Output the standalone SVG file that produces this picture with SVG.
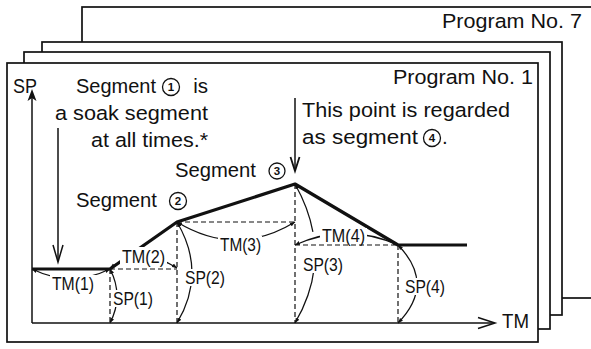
<svg xmlns="http://www.w3.org/2000/svg" width="591" height="349" viewBox="0 0 591 349">
<style>
.frame{fill:#fff;stroke:#111;stroke-width:1.7}
.t{font-family:"Liberation Sans",Arial,Helvetica,sans-serif;font-size:20.5px;fill:#111}
.lb{font-family:"Liberation Sans",Arial,Helvetica,sans-serif;font-size:17.5px;fill:#111}
.dg{font-family:"Liberation Sans",Arial,Helvetica,sans-serif;font-size:11.5px;font-weight:bold;fill:#111;text-anchor:middle}
.ax{fill:none;stroke:#111;stroke-width:1.5}
.dash{fill:none;stroke:#111;stroke-width:1.2;stroke-dasharray:5 3}
.arc{fill:none;stroke:#111;stroke-width:1.25}
.arcm{marker-start:url(#ah);marker-end:url(#ah)}
.prof{fill:none;stroke:#111;stroke-width:3.2;stroke-linejoin:round}
.bg{fill:#fff}
.circ{fill:#fff;stroke:#111;stroke-width:1.3}
</style>
<defs>
<marker id="ah" viewBox="0 0 6 6" refX="6" refY="3" markerWidth="5" markerHeight="5" orient="auto-start-reverse" markerUnits="userSpaceOnUse">
<path d="M0,0.6 L6,3 L0,5.4 Z" fill="#111"/>
</marker>
</defs>

<g id="frame-program-7">
<rect class="frame" x="82" y="7" width="520" height="291"/>
<text class="t" x="442" y="28" textLength="140" lengthAdjust="spacingAndGlyphs">Program No. 7</text>
</g>
<g id="frame-3">
<rect class="frame" x="42" y="42" width="520" height="273"/>
</g>
<g id="frame-2">
<rect class="frame" x="24" y="52" width="526" height="277"/>
</g>
<g id="frame-program-1">
<rect class="frame" x="7" y="63" width="531" height="279"/>
<text class="t" x="393" y="84" textLength="140" lengthAdjust="spacingAndGlyphs">Program No. 1</text>
</g>

<g id="axes">
<line class="ax" x1="32" y1="323" x2="32" y2="92"/>
<path d="M32,89 L36.5,101 L32,98 L27.5,101 Z" fill="#111"/>
<line class="ax" x1="32" y1="323" x2="494" y2="323"/>
<polyline class="ax" points="478,317.5 495,323 478,328.5"/>
<text class="t" x="13" y="93" textLength="24" lengthAdjust="spacingAndGlyphs">SP</text>
<text class="t" x="502" y="328" textLength="27" lengthAdjust="spacingAndGlyphs">TM</text>
</g>

<g id="connectors">
<g id="dashed">
<line class="dash" x1="110" y1="269" x2="110" y2="323"/>
<line class="dash" x1="110" y1="269" x2="177" y2="269"/>
<line class="dash" x1="177" y1="222" x2="177" y2="323"/>
<line class="dash" x1="177" y1="222" x2="295" y2="222"/>
<line class="dash" x1="295" y1="184" x2="295" y2="323"/>
<line class="dash" x1="295" y1="245" x2="398" y2="245"/>
<line class="dash" x1="398" y1="245" x2="398" y2="323"/>
</g>
<g id="arcs">
<path class="arc arcm" d="M32,269 Q71,288 110,269"/>
<path class="arc arcm" d="M110,269 Q124,296 110,323"/>
<path class="arc arcm" d="M110,268 Q143,246 177,268"/>
<path class="arc arcm" d="M177,222 Q207,273 177,323"/>
<path class="arc arcm" d="M177,222 Q236,258 295,222"/>
<path class="arc arcm" d="M295,245 Q346,222 398,245"/>
<path class="arc" d="M295,184 Q308.6,208.1 312.9,231.9" marker-start="url(#ah)"/>
<path class="arc" d="M314.2,268.1 Q311,295.8 295,323" marker-end="url(#ah)"/>
<path class="arc arcm" d="M398,245 Q436,284 398,323"/>
</g>
<g id="profile">
<polyline class="prof" points="32,269 110,269 177,222 295,184 398,245 467,245"/>
</g>
<g id="pointers">
<line class="ax" x1="58" y1="128" x2="58" y2="261"/>
<polyline class="ax" points="53,245 58,262 63,245"/>
<line class="ax" x1="295" y1="98" x2="295" y2="169"/>
<polyline class="ax" style="stroke-width:1.8" points="290.5,157 295,171 299.5,157"/>
</g>
</g>

<g id="label-bgs">
<rect class="bg" x="50" y="275" width="46" height="17"/>
<rect class="bg" x="112" y="290" width="43" height="17"/>
<rect class="bg" x="120" y="247" width="47" height="18"/>
<rect class="bg" x="184" y="269" width="43" height="17"/>
<rect class="bg" x="218" y="236" width="44" height="17"/>
<rect class="bg" x="320" y="228" width="47" height="16"/>
<rect class="bg" x="301" y="256" width="44" height="17"/>
<rect class="bg" x="403" y="278" width="44" height="17"/>
</g>

<g id="dimension-labels">
<text class="lb" x="52" y="290" textLength="42" lengthAdjust="spacingAndGlyphs">TM(1)</text>
<text class="lb" x="113" y="305" textLength="40" lengthAdjust="spacingAndGlyphs">SP(1)</text>
<text class="lb" x="122" y="263" textLength="43" lengthAdjust="spacingAndGlyphs">TM(2)</text>
<text class="lb" x="185" y="284" textLength="40" lengthAdjust="spacingAndGlyphs">SP(2)</text>
<text class="lb" x="220" y="251" textLength="41" lengthAdjust="spacingAndGlyphs">TM(3)</text>
<text class="lb" x="322" y="242" textLength="43" lengthAdjust="spacingAndGlyphs">TM(4)</text>
<text class="lb" x="303" y="271" textLength="40" lengthAdjust="spacingAndGlyphs">SP(3)</text>
<text class="lb" x="405" y="293" textLength="40" lengthAdjust="spacingAndGlyphs">SP(4)</text>
</g>

<g id="note-segment-1">
<text class="t" x="76" y="93" textLength="80" lengthAdjust="spacingAndGlyphs">Segment</text>
<circle class="circ" cx="171" cy="87" r="8.5"/>
<text class="dg" x="171" y="91">1</text>
<text class="t" x="208" y="93" text-anchor="end">is</text>
<text class="t" x="208" y="120" text-anchor="end" textLength="153" lengthAdjust="spacingAndGlyphs">a soak segment</text>
<text class="t" x="208" y="147" text-anchor="end" textLength="117" lengthAdjust="spacingAndGlyphs">at all times.*</text>
</g>

<g id="note-segment-2">
<text class="t" x="76" y="207" textLength="81" lengthAdjust="spacingAndGlyphs">Segment</text>
<circle class="circ" cx="178" cy="201" r="8.5"/>
<text class="dg" x="178" y="205">2</text>
</g>

<g id="note-segment-3">
<text class="t" x="175" y="177" textLength="81" lengthAdjust="spacingAndGlyphs">Segment</text>
<circle class="circ" cx="277" cy="171" r="8"/>
<text class="dg" x="277" y="175">3</text>
</g>

<g id="note-segment-4">
<text class="t" x="302" y="117" textLength="208" lengthAdjust="spacingAndGlyphs">This point is regarded</text>
<text class="t" x="302" y="144" textLength="116" lengthAdjust="spacingAndGlyphs">as segment</text>
<circle class="circ" cx="432" cy="138" r="8.5"/>
<text class="dg" x="432" y="142">4</text>
<text class="t" x="442" y="144">.</text>
</g>
</svg>
